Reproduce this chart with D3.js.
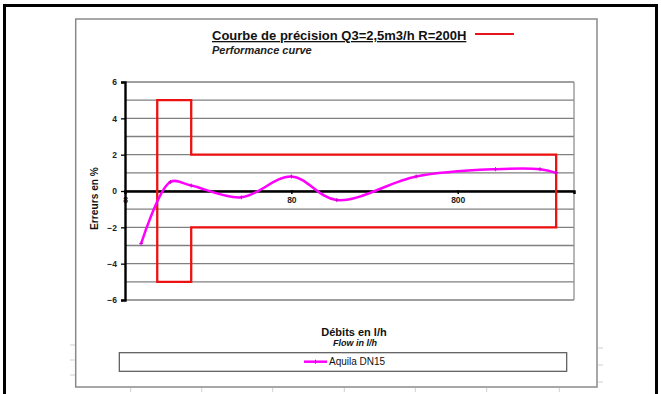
<!DOCTYPE html>
<html>
<head>
<meta charset="utf-8">
<script src="https://cdn.jsdelivr.net/npm/d3@7/dist/d3.min.js"></script>
<style>
  html, body { margin: 0; padding: 0; background: #fff; }
  svg { display: block; font-family: "Liberation Sans", Arial, sans-serif; }
</style>
</head>
<body>
<svg id="chart" width="661" height="394"></svg>
<script>
// Measured meter error (%) against flow rate (l/h)
const flows  = [10, 15, 20, 40, 80, 150, 450, 1350, 2500, 3125];
const errors = [-2.9, 0.5, 0.3, -0.35, 0.8, -0.5, 0.8, 1.2, 1.2, 1.0];

// Maximum permissible error envelope (Q1 = 12.5, Q2 = 20, Q4 = 3125 l/h)
const limitFlows  = [12.5, 20, 20, 3125, 3125, 20, 20, 12.5];
const limitErrors = [5, 5, 2, 2, -2, -2, -5, -5];

const xTicks = [8, 80, 800];
const yTicks = [-6, -4, -2, 0, 2, 4, 6];
const gridValues = d3.range(-6, 7, 1);

const seriesName = "Aquila DN15";
const titleText = "Courbe de précision Q3=2,5m3/h R=200H";
const subtitleText = "Performance curve";
const yTitle = "Erreurs en %";
const xTitle = "Débits en l/h";
const xSubtitle = "Flow in l/h";

const svg = d3.select("#chart");

// Scales
const x = d3.scaleLog().domain([8, 4000]).range([125, 574]);
const y = d3.scaleLinear().domain([-6, 6]).range([300, 82]);

// Page frame
svg.append("rect")
  .attr("x", 4.5).attr("y", 5.5).attr("width", 652).attr("height", 400)
  .attr("fill", "none").attr("stroke", "#000").attr("stroke-width", 3);

// Faint sheet ticks around the chart object
const faint = svg.append("g").attr("stroke", "#cfcfcf").attr("stroke-width", 1);
[130.7, 201.7, 272.7, 344.3, 415.3, 486.7, 559.3].forEach(px => {
  faint.append("line").attr("x1", px).attr("x2", px).attr("y1", 388).attr("y2", 392);
});
[345, 360, 375].forEach(py => {
  faint.append("line").attr("x1", 70).attr("x2", 75).attr("y1", py).attr("y2", py);
});
[348, 365, 382].forEach(py => {
  faint.append("line").attr("x1", 598).attr("x2", 603).attr("y1", py).attr("y2", py);
});

// Chart object frame
svg.append("rect")
  .attr("x", 75.7).attr("y", 19).attr("width", 521.3).attr("height", 368)
  .attr("fill", "#fff").attr("stroke", "#8a8a8a").attr("stroke-width", 1.5);

// Titles
svg.append("text")
  .attr("x", 212).attr("y", 40)
  .attr("font-size", 13).attr("font-weight", "bold")
  .attr("text-decoration", "underline").attr("fill", "#111")
  .text(titleText);
svg.append("line")
  .attr("x1", 475).attr("x2", 514).attr("y1", 34).attr("y2", 34)
  .attr("stroke", "#e8141c").attr("stroke-width", 2);
svg.append("text")
  .attr("x", 212).attr("y", 54)
  .attr("font-size", 11).attr("font-style", "italic").attr("font-weight", "bold")
  .attr("fill", "#222")
  .text(subtitleText);

// Horizontal gridlines
svg.append("g")
  .selectAll("line").data(gridValues).join("line")
  .attr("x1", x.range()[0]).attr("x2", x.range()[1])
  .attr("y1", d => y(d)).attr("y2", d => y(d))
  .attr("stroke", "#808080").attr("stroke-width", 1.3);

// Right edge of the plot area
svg.append("line")
  .attr("x1", x.range()[1]).attr("x2", x.range()[1])
  .attr("y1", y(6)).attr("y2", y(-6))
  .attr("stroke", "#909090").attr("stroke-width", 1.3);

// Zero line with the flow axis
const xAxis = svg.append("g")
  .attr("transform", `translate(0,${y(0)})`)
  .call(d3.axisBottom(x).tickValues(xTicks).tickFormat(d3.format("d")).tickSize(3).tickPadding(3));
xAxis.select(".domain").attr("stroke", "#000").attr("stroke-width", 2.5);
xAxis.selectAll(".tick line").attr("stroke", "#000").attr("stroke-width", 1.5).attr("y1", -1);
xAxis.selectAll(".tick text")
  .attr("font-family", "Liberation Sans, Arial, sans-serif")
  .attr("font-size", 8.5).attr("font-weight", "bold").attr("fill", "#222");

// Error axis (drawn over the first flow label)
const yAxis = svg.append("g")
  .attr("transform", `translate(${x.range()[0]},0)`)
  .call(d3.axisLeft(y).tickValues(yTicks).tickFormat(d3.format("d")).tickSize(4).tickPadding(4));
yAxis.select(".domain").attr("stroke", "#000").attr("stroke-width", 2.4);
yAxis.selectAll(".tick line").attr("stroke", "#000").attr("stroke-width", 1.3);
yAxis.selectAll(".tick text")
  .attr("font-family", "Liberation Sans, Arial, sans-serif")
  .attr("font-size", 8.5).attr("font-weight", "bold").attr("fill", "#222");

// Tolerance envelope
const envelope = limitFlows.map((f, i) => [x(f), y(limitErrors[i])]);
svg.append("path")
  .attr("d", d3.line()(envelope) + "Z")
  .attr("fill", "none").attr("stroke", "#ee1111").attr("stroke-width", 2.3)
  .attr("stroke-linejoin", "miter");

// Measured curve
const pts = flows.map((f, i) => [x(f), y(errors[i])]);
svg.append("path")
  .attr("d", d3.line().curve(d3.curveCatmullRom.alpha(0.5))(pts))
  .attr("fill", "none").attr("stroke", "#ff00ff").attr("stroke-width", 2.5);
svg.append("g").selectAll("path").data(pts).join("path")
  .attr("d", d => `M${d[0] - 2},${d[1]}H${d[0] + 2}M${d[0]},${d[1] - 2}V${d[1] + 2}`)
  .attr("stroke", "#d000d0").attr("stroke-width", 1);

// Axis titles
svg.append("text")
  .attr("transform", "translate(98,198.5) rotate(-90)")
  .attr("text-anchor", "middle")
  .attr("font-size", 10.2).attr("font-weight", "bold").attr("fill", "#111")
  .text(yTitle);
svg.append("text")
  .attr("x", 354).attr("y", 335.5).attr("text-anchor", "middle")
  .attr("font-size", 11).attr("font-weight", "bold").attr("fill", "#111")
  .text(xTitle);
svg.append("text")
  .attr("x", 355).attr("y", 346).attr("text-anchor", "middle")
  .attr("font-size", 9).attr("font-weight", "bold").attr("font-style", "italic").attr("fill", "#111")
  .text(xSubtitle);

// Legend
svg.append("rect")
  .attr("x", 119.3).attr("y", 352.7).attr("width", 447.4).attr("height", 18.6)
  .attr("fill", "#fff").attr("stroke", "#555").attr("stroke-width", 1.2);
svg.append("line")
  .attr("x1", 304).attr("x2", 327).attr("y1", 361.7).attr("y2", 361.7)
  .attr("stroke", "#ff00ff").attr("stroke-width", 2.5);
svg.append("path")
  .attr("d", "M315.5,359.7V363.7")
  .attr("stroke", "#d000d0").attr("stroke-width", 1);
svg.append("text")
  .attr("x", 329).attr("y", 365.2)
  .attr("font-size", 10).attr("fill", "#111")
  .text(seriesName);
</script>
</body>
</html>
